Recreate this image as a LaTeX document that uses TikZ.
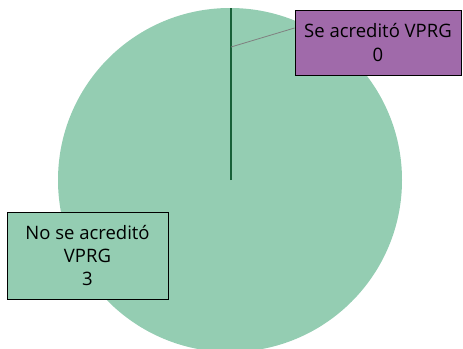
\documentclass[tikz,border=0pt]{standalone}
\usepackage{fontspec}
\setmainfont{Open Sans}
\definecolor{piegreen}{RGB}{148,205,178}
\definecolor{piepurple}{RGB}{160,106,170}
\definecolor{slicegreen}{RGB}{24,96,56}
\begin{document}
\begin{tikzpicture}[x=1pt,y=-1pt]

      \useasboundingbox (0,0) rectangle (463,348);

      % pie
      \begin{scope}
        \clip (0,0) rectangle (463,348);
        \fill[piegreen] (230,180) circle (172pt);
      \end{scope}
      \coordinate (ctr) at (231,180);
      \coordinate (top) at (231,8);
      \coordinate (lead) at (231,47);
      \draw[slicegreen,line width=2pt] (ctr) -- (top);

      \begin{scope}[every node/.style={draw=black,line width=0.9pt,align=center,inner sep=0pt,
          font=\fontsize{18.5}{23.5}\selectfont}]
        \node[fill=piepurple,minimum width=166pt,minimum height=65pt] (lbl0) at (378,42.5)
          {Se acreditó VPRG\\0};
        \node[fill=piegreen,minimum width=161pt,minimum height=87pt] (lbl3) at (87.5,255.5)
          {No se acreditó\\VPRG\\3};
      \end{scope}

      \draw[gray,line width=0.8pt] (lead) -- ([yshift=14.5pt]lbl0.west);

    \end{tikzpicture}
\end{document}
